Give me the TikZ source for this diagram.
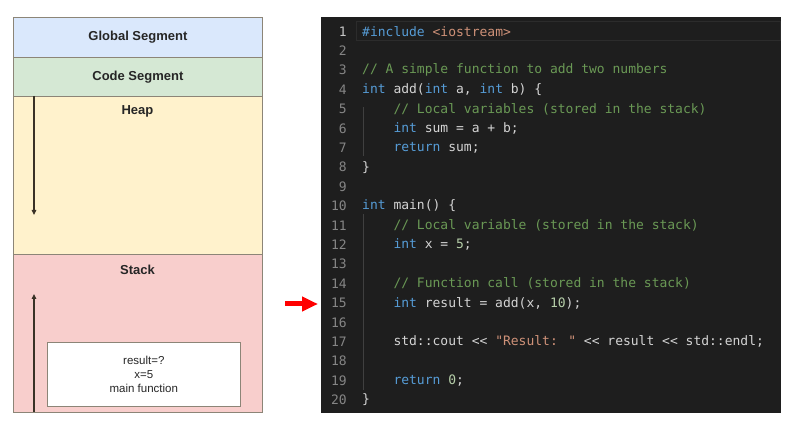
\documentclass[tikz,border=0pt]{standalone}
\usepackage{fontspec}
\setmainfont{Liberation Sans}
\newfontfamily\codefont{DejaVu Sans Mono}
\usetikzlibrary{arrows.meta}
\definecolor{globalc}{HTML}{DAE8FC}
\definecolor{codec}{HTML}{D5E8D4}
\definecolor{heapc}{HTML}{FFF2CC}
\definecolor{stackc}{HTML}{F8CECC}
\definecolor{segborder}{HTML}{8C8577}
\definecolor{editorbg}{HTML}{1E1E1E}
\definecolor{lnum}{HTML}{858585}
\definecolor{lnumact}{HTML}{C6C6C6}
\definecolor{ctext}{HTML}{D4D4D4}
\definecolor{ckw}{HTML}{569CD6}
\definecolor{ccom}{HTML}{6A9955}
\definecolor{cstr}{HTML}{CE9178}
\definecolor{cnum}{HTML}{B5CEA8}
\definecolor{cguide}{HTML}{404040}
\definecolor{clinehl}{HTML}{2C2C2C}
\definecolor{arrowc}{HTML}{3A3226}
\begin{document}
\begin{tikzpicture}[x=1pt,y=-1pt,
  seg/.style={draw=segborder, line width=0.8pt, minimum width=249pt, anchor=north west, inner sep=0pt},
  segtitle/.style={font=\fontsize{13}{15}\selectfont\bfseries, text=black!85},
  growarrow/.style={draw=arrowc, line width=1.2pt, -{Triangle[length=5pt,width=4.5pt]}},
  lno/.style={anchor=east, text=lnum, font=\codefont\fontsize{13}{15}\selectfont, inner sep=0pt},
  codeline/.style={anchor=west, text=ctext, font=\codefont\fontsize{13}{15}\selectfont, inner sep=0pt},
]
\useasboundingbox (0,0) rectangle (793,427);
\fill[white] (0,0) rectangle (793,427);
% segments
\node[seg, fill=globalc, minimum height=40pt] (global) at (13,17) {};
\node[seg, fill=codec, minimum height=39pt] (code) at (13,57) {};
\node[seg, fill=heapc, minimum height=158pt] (heap) at (13,96) {};
\node[seg, fill=stackc, minimum height=158pt] (stack) at (13,254) {};
\node[segtitle] (globalt) at (global.center) {Global Segment};
\node[segtitle] (codet) at (code.center) {Code Segment};
\node[segtitle] (heapt) at (137.5,111) {Heap};
\node[segtitle] (stackt) at (137.5,270) {Stack};
% growth arrows
\coordinate (h1) at (34,96);
\coordinate (h2) at (34,215);
\coordinate (s1) at (34,412);
\coordinate (s2) at (34,294);
\draw[growarrow] (h1) -- (h2);
\draw[growarrow] (s1) -- (s2);
% stack frame box
\node[draw=segborder, line width=0.6pt, fill=white, minimum width=193pt, minimum height=64pt, anchor=north west, inner sep=0pt] (frame) at (47,342) {};
\node[align=center, font=\fontsize{11.5}{13.8}\selectfont, text=black!85] (framet) at (frame.center) {result=?\\x=5\\main function};
% editor
\node[fill=editorbg, minimum width=460pt, minimum height=396pt, anchor=north west, inner sep=0pt] (editor) at (321,17) {};
\draw[draw=clinehl, line width=0.8pt] (356,21.5) rectangle (780,40.5);
% indent guides
\draw[cguide, line width=0.6pt] (363,107) -- (363,156);
\draw[cguide, line width=0.6pt] (363,214) -- (363,390);
% red arrow
\coordinate (ra1) at (285,304);
\coordinate (ra2) at (318,304);
\draw[red, line width=5pt, -{Triangle[length=16pt,width=14pt]}] (ra1) -- (ra2);
% line numbers
\foreach \n in {2,...,20} {
  \node[lno] (ln\n) at (347,{31.4+(\n-1)*19.4}) {\n};
}
\node[lno, text=lnumact] (ln1) at (347,31.4) {1};
% code
\def\ly#1{{31.4+(#1-1)*19.4}}
\node[codeline] (c1) at (362,\ly{1}) {\textcolor{ckw}{\#include} \textcolor{cstr}{<iostream>}};
\node[codeline] (c3) at (362,\ly{3}) {\textcolor{ccom}{// A simple function to add two numbers}};
\node[codeline] (c4) at (362,\ly{4}) {\textcolor{ckw}{int} add(\textcolor{ckw}{int} a, \textcolor{ckw}{int} b) \{};
\node[codeline] (c5) at (362,\ly{5}) {\phantom{xxxx}\textcolor{ccom}{// Local variables (stored in the stack)}};
\node[codeline] (c6) at (362,\ly{6}) {\phantom{xxxx}\textcolor{ckw}{int} sum = a + b;};
\node[codeline] (c7) at (362,\ly{7}) {\phantom{xxxx}\textcolor{ckw}{return} sum;};
\node[codeline] (c8) at (362,\ly{8}) {\}};
\node[codeline] (c10) at (362,\ly{10}) {\textcolor{ckw}{int} main() \{};
\node[codeline] (c11) at (362,\ly{11}) {\phantom{xxxx}\textcolor{ccom}{// Local variable (stored in the stack)}};
\node[codeline] (c12) at (362,\ly{12}) {\phantom{xxxx}\textcolor{ckw}{int} x = \textcolor{cnum}{5};};
\node[codeline] (c14) at (362,\ly{14}) {\phantom{xxxx}\textcolor{ccom}{// Function call (stored in the stack)}};
\node[codeline] (c15) at (362,\ly{15}) {\phantom{xxxx}\textcolor{ckw}{int} result = add(x, \textcolor{cnum}{10});};
\node[codeline] (c17) at (362,\ly{17}) {\phantom{xxxx}std::cout <{}< \textcolor{cstr}{"Result: "} <{}< result <{}< std::endl;};
\node[codeline] (c19) at (362,\ly{19}) {\phantom{xxxx}\textcolor{ckw}{return} \textcolor{cnum}{0};};
\node[codeline] (c20) at (362,\ly{20}) {\}};
\end{tikzpicture}
\end{document}
